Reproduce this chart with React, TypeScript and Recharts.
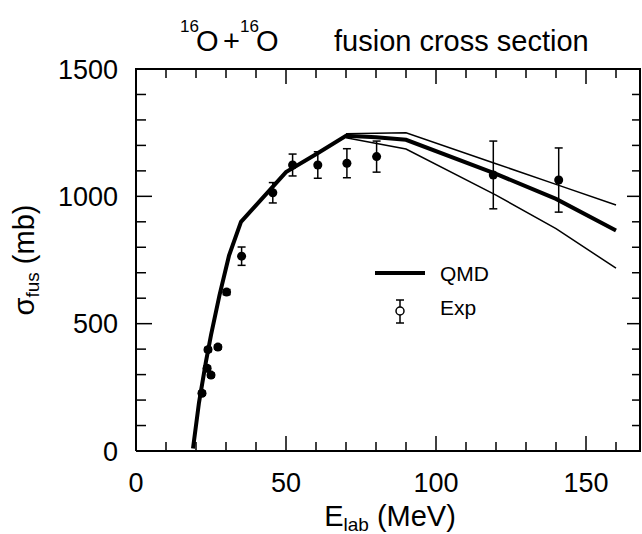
import { ComposedChart, Line, Scatter, ErrorBar, XAxis, YAxis } from 'recharts';

// QMD calculation (thick line)
const qmdEnergy = [19, 21, 23.3, 25, 27.8, 31, 35, 50, 60, 70, 80, 90, 120, 140, 160];
const qmdSigma = [10, 190, 350, 455, 610, 767, 900, 1095, 1165, 1238, 1232, 1222, 1088, 990, 866];

// upper / lower bounds of the QMD result (thin lines)
const bandEnergy = [70, 90, 120, 140, 160];
const bandUpper = [1246, 1250, 1128, 1047, 966];
const bandLower = [1230, 1186, 1005, 873, 718];

// measured fusion cross sections
const expEnergy = [22, 23.7, 24, 25, 27.3, 30.2, 35.2, 45.6, 52.2, 60.6, 70.3, 80.2, 119.1, 140.9];
const expSigma = [227, 325, 398, 298, 408, 624, 765, 1014, 1123, 1123, 1130, 1156, 1084, 1064];
const expError = [8, 8, 8, 8, 8, 10, 36, 40, 43, 52, 57, 61, 133, 126];

const energyTicks = [0, 10, 20, 30, 40, 50, 60, 70, 80, 90, 100, 110, 120, 130, 140, 150, 160];
const sigmaTicks = [0, 100, 200, 300, 400, 500, 600, 700, 800, 900, 1000, 1100, 1200, 1300, 1400, 1500];
const energyLabels = [0, 50, 100, 150];
const sigmaLabels = [0, 500, 1000, 1500];
const energyMax = 168;
const sigmaMax = 1500;

const qmdData = qmdEnergy.map((e, i) => ({ e, s: qmdSigma[i] }));
const upperData = bandEnergy.map((e, i) => ({ e, s: bandUpper[i] }));
const lowerData = bandEnergy.map((e, i) => ({ e, s: bandLower[i] }));
const expData = expEnergy.map((e, i) => ({ e, s: expSigma[i], err: expError[i] }));

const FONT = '"Liberation Sans", Arial, Helvetica, sans-serif';
const INK = 'black';
const axisLine = { stroke: INK, strokeWidth: 2 };

// numbers only; the tick marks are drawn with the frame below
const bottomTick = (p: any) => (
  <text x={p.x} y={p.y + 41} textAnchor="middle" fontSize={27} fontFamily={FONT} fill={INK}>
    {energyLabels.includes(p.payload.value) ? p.payload.value : ''}
  </text>
);

const leftTick = (p: any) => (
  <text x={p.x - 18} y={p.y + 9.5} textAnchor="end" fontSize={27} fontFamily={FONT} fill={INK}>
    {sigmaLabels.includes(p.payload.value) ? p.payload.value : ''}
  </text>
);

const noTick = () => <g />;

// inward tick marks along each edge of the plot box, placed from the axis box
const BottomEdge = ({ viewBox }: any) => {
  if (!viewBox) return null;
  const { x, y, width } = viewBox;
  return (
    <g>
      {energyTicks.map((v) => {
        const px = x + (v / energyMax) * width;
        return (
          <line key={v} x1={px} x2={px} y1={y} y2={y - (energyLabels.includes(v) ? 15 : 9)} stroke={INK} strokeWidth={1.5} />
        );
      })}
      <text x={390} y={526} fontSize={29} fontFamily={FONT} textAnchor="middle" fill={INK}>
        <tspan>E</tspan>
        <tspan fontSize={19} dy={5}>lab</tspan>
        <tspan dy={-5}> (MeV)</tspan>
      </text>
    </g>
  );
};

const TopEdge = ({ viewBox }: any) => {
  if (!viewBox) return null;
  const { x, y, width, height } = viewBox;
  const edge = y + height;
  return (
    <g>
      <line x1={x - 1} x2={x + width + 1} y1={edge} y2={edge} stroke={INK} strokeWidth={2} />
      {energyTicks.map((v) => {
        const px = x + (v / energyMax) * width;
        return (
          <line key={v} x1={px} x2={px} y1={edge} y2={edge + (energyLabels.includes(v) ? 15 : 9)} stroke={INK} strokeWidth={1.5} />
        );
      })}
      <text fontSize={29} fontFamily={FONT} fill={INK}>
        <tspan x={180} y={32} fontSize={17}>16</tspan>
        <tspan x={196} y={51}>O</tspan>
        <tspan x={223} y={51}>+</tspan>
        <tspan x={240} y={32} fontSize={17}>16</tspan>
        <tspan x={256} y={51}>O</tspan>
        <tspan x={334} y={51}>fusion cross section</tspan>
      </text>
    </g>
  );
};

const LeftEdge = ({ viewBox }: any) => {
  if (!viewBox) return null;
  const { x, y, width, height } = viewBox;
  const edge = x + width;
  return (
    <g>
      {sigmaTicks.map((v) => {
        const py = y + height - (v / sigmaMax) * height;
        return (
          <line key={v} x1={edge} x2={edge + (sigmaLabels.includes(v) ? 16 : 10)} y1={py} y2={py} stroke={INK} strokeWidth={1.5} />
        );
      })}
      <text x={34} y={260} fontSize={29} fontFamily={FONT} textAnchor="middle" fill={INK} transform="rotate(-90 34 260)">
        <tspan>σ</tspan>
        <tspan fontSize={19} dy={5}>fus</tspan>
        <tspan dy={-5}> (mb)</tspan>
      </text>
    </g>
  );
};

const RightEdge = ({ viewBox }: any) => {
  if (!viewBox) return null;
  const { x, y, height } = viewBox;
  return (
    <g>
      <line x1={x} x2={x} y1={y - 1} y2={y + height + 1} stroke={INK} strokeWidth={2} />
      {sigmaTicks.map((v) => {
        const py = y + height - (v / sigmaMax) * height;
        return (
          <line key={v} x1={x} x2={x - (sigmaLabels.includes(v) ? 13 : 8)} y1={py} y2={py} stroke={INK} strokeWidth={1.5} />
        );
      })}
      {/* legend */}
      <g fontFamily={FONT} fill={INK}>
        <line x1={375} x2={425} y1={273} y2={273} stroke={INK} strokeWidth={4} />
        <text x={440} y={281} fontSize={21}>QMD</text>
        <line x1={400} x2={400} y1={300} y2={307} stroke={INK} strokeWidth={1.5} />
        <line x1={400} x2={400} y1={315} y2={323} stroke={INK} strokeWidth={1.5} />
        <line x1={396} x2={404} y1={300} y2={300} stroke={INK} strokeWidth={1.5} />
        <line x1={396} x2={404} y1={323} y2={323} stroke={INK} strokeWidth={1.5} />
        <circle cx={400} cy={311} r={4} fill="none" stroke={INK} strokeWidth={1.5} />
        <text x={440} y={315} fontSize={21}>Exp</text>
      </g>
    </g>
  );
};

export default function App() {
  return (
    <div style={{ position: 'absolute', left: 0, top: 0, width: 642, height: 534, background: '#fff' }}>
      <ComposedChart width={642} height={534} margin={{ top: 59, right: 1, bottom: 43, left: 76 }}>
        <XAxis
          dataKey="e"
          type="number"
          domain={[0, energyMax]}
          allowDataOverflow
          ticks={energyTicks}
          interval={0}
          tickSize={0}
          tickMargin={0}
          tickLine={false}
          height={40}
          axisLine={axisLine}
          tick={bottomTick}
          label={<BottomEdge />}
        />
        <XAxis
          xAxisId="top"
          dataKey="e"
          orientation="top"
          type="number"
          domain={[0, energyMax]}
          allowDataOverflow
          ticks={energyTicks}
          interval={0}
          tickSize={0}
          tickMargin={0}
          tickLine={false}
          height={10}
          axisLine={axisLine}
          tick={noTick}
          label={<TopEdge />}
        />
        <YAxis
          type="number"
          domain={[0, sigmaMax]}
          allowDataOverflow
          ticks={sigmaTicks}
          interval={0}
          tickSize={0}
          tickMargin={0}
          tickLine={false}
          width={60}
          axisLine={axisLine}
          tick={leftTick}
          label={<LeftEdge />}
        />
        <YAxis
          yAxisId="right"
          orientation="right"
          type="number"
          domain={[0, sigmaMax]}
          allowDataOverflow
          ticks={sigmaTicks}
          interval={0}
          tickSize={0}
          tickMargin={0}
          tickLine={false}
          width={1}
          axisLine={axisLine}
          tick={noTick}
          label={<RightEdge />}
        />
        <Line
          data={upperData}
          dataKey="s"
          xAxisId="top"
          yAxisId="right"
          type="linear"
          stroke={INK}
          strokeWidth={1.5}
          dot={false}
          isAnimationActive={false}
        />
        <Line data={lowerData} dataKey="s" type="linear" stroke={INK} strokeWidth={1.5} dot={false} isAnimationActive={false} />
        <Line data={qmdData} dataKey="s" type="linear" stroke={INK} strokeWidth={4} dot={false} isAnimationActive={false} />
        <Scatter data={expData} dataKey="s" fill={INK} isAnimationActive={false}>
          <ErrorBar dataKey="err" direction="y" width={4} stroke={INK} strokeWidth={1.5} />
        </Scatter>
      </ComposedChart>
    </div>
  );
}
